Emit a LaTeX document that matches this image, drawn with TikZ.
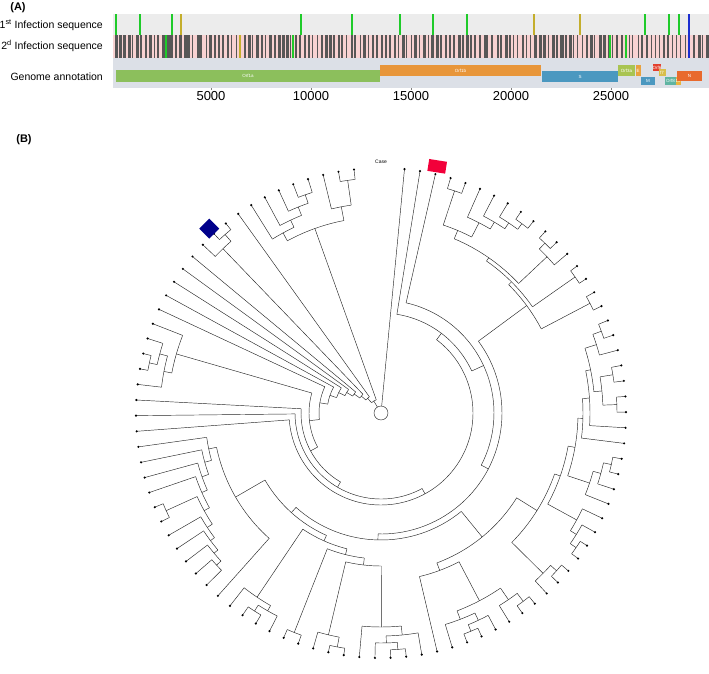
\documentclass[tikz,border=0pt]{standalone}
\usepackage{fontspec}
\setmainfont{Liberation Sans}
\usetikzlibrary{shapes.geometric}
\definecolor{RowGrey}{HTML}{ECECEC}
\definecolor{RowPink}{HTML}{F8D2D2}
\definecolor{RowBlue}{HTML}{DCE0E7}
\definecolor{BarDark}{HTML}{575757}
\definecolor{SnpGreen}{HTML}{1FCB2A}
\definecolor{SnpOlive}{HTML}{C4AE2C}
\definecolor{SnpBlue}{HTML}{1C2ED0}
\definecolor{GOrfA}{HTML}{8CBF5C}
\definecolor{GOrfB}{HTML}{E8963A}
\definecolor{GS}{HTML}{4B98C0}
\definecolor{GOrfC}{HTML}{A9C452}
\definecolor{GE}{HTML}{E9A23E}
\definecolor{GSix}{HTML}{E2402E}
\definecolor{GSeven}{HTML}{D9BE4C}
\definecolor{GEight}{HTML}{5FB4A2}
\definecolor{GTen}{HTML}{E9B43E}
\definecolor{GN}{HTML}{E86A2E}
\definecolor{MarkRed}{HTML}{F2003A}
\definecolor{MarkNavy}{HTML}{00008B}
% angle of leaf slot #1 on the circle
\newcommand\tang[1]{275.5+3.665*(#1)}

\begin{document}
\begin{tikzpicture}[x=1pt,y=-1pt,
    branch/.style={line width=0.45pt,draw=black!85},
    tipdot/.style={circle,fill=black,inner sep=0pt,minimum size=2.4pt},
    lab/.style={font=\fontsize{10.5}{12}\selectfont,anchor=east,inner sep=0pt},
    tick/.style={font=\fontsize{13}{15}\selectfont,inner sep=0pt},
    panel/.style={font=\bfseries\fontsize{11}{13}\selectfont,inner sep=0pt},
    gene/.style={inner sep=0pt,text=white,font=\fontsize{4.5}{5}\selectfont}]
  \useasboundingbox (0,0) rectangle (709,674);

  % (A) sequences and genome annotation
  \node[panel] (pA) at (18,8) {(A)};
  \fill[RowGrey] (113,14) rectangle (709,35);
  \fill[RowPink] (113,35) rectangle (709,58);
  \fill[RowBlue] (113,58) rectangle (709,88);
  \pgfmathsetseed{2023}
  \foreach \k in {0,...,138}{
    \pgfmathsetmacro\bx{114.5+4.28*\k+1.2*rnd}
    \pgfmathsetmacro\bw{0.9+2.3*rnd}
    \fill[BarDark] (\bx,35.5) rectangle (\bx+\bw,58);
  }
  \foreach \x/\c in {116/SnpGreen,140/SnpGreen,172/SnpGreen,181/SnpOlive,301/SnpGreen,
      352/SnpGreen,400/SnpGreen,433/SnpGreen,467/SnpGreen,534/SnpOlive,580/SnpOlive,
      645/SnpGreen,669/SnpGreen,679/SnpGreen,689/SnpBlue}
    \fill[\c] (\x-1,14) rectangle (\x+1,35);
  \foreach \x/\c in {166/SnpGreen,240/SnpOlive,293/SnpGreen,610/SnpGreen,626/SnpGreen,689/SnpBlue}
    \fill[\c] (\x-1,35.5) rectangle (\x+1,58);

  \node[lab] (seq1) at (103,25) {1\textsuperscript{st} Infection sequence};
  \node[lab] (seq2) at (103,46) {2\textsuperscript{d} Infection sequence};
  \node[lab] (annot) at (103,77) {Genome annotation};

  \node[gene,fill=GOrfA,minimum width=264pt,minimum height=12pt] (orf1a) at (248,76) {Orf1a};
  \node[gene,fill=GOrfB,minimum width=161pt,minimum height=11pt] (orf1b) at (460.5,70.5) {Orf1b};
  \node[gene,fill=GS,minimum width=76pt,minimum height=11pt] (sgene) at (580,76.5) {S};
  \node[gene,fill=GOrfC,minimum width=17pt,minimum height=11pt] (orf3a) at (626.5,70.5) {Orf3a};
  \node[gene,fill=GE,minimum width=5pt,minimum height=11pt] (egene) at (638,70.5) {E};
  \node[gene,fill=GS,minimum width=14pt,minimum height=8pt] (mgene) at (648,81) {M};
  \node[gene,fill=GSix,minimum width=4pt,minimum height=7pt] (orf6) at (657,67.5) {Orf6};
  \node[gene,fill=GSeven,minimum width=7pt,minimum height=7pt] (orf7) at (662,73) {f7};
  \node[gene,fill=GEight,minimum width=11pt,minimum height=8pt] (orf8) at (670.5,81) {Orf8};
  \node[gene,fill=GTen,minimum width=4pt,minimum height=8pt] (orf10) at (678,81) {10};
  \node[gene,fill=GN,minimum width=25pt,minimum height=10pt] (ngene) at (689.5,76) {N};

  \foreach \v/\x in {5000/211,10000/311,15000/411,20000/511,25000/611}{
    \draw[black!50] (\x,88) -- (\x,90.5);
    \node[tick] (tk\v) at (\x,96.5) {\v};
  }

  % (B) circular tree
  \node[panel] (pB) at (24,140) {(B)};
  \begin{scope}[shift={(381,413)}]
    \draw[branch] (0,0) circle[radius=7];
    % arcs: radius / first slot / last slot
    \foreach \r/\a/\b in {235/94/95,210/93/94.5,231/91/92,222/90/91.5,213/89/90.75,205/88/89.875,
        196/88.9375/93.75,237/85/86,228/84/85.5,237/75/76,229/75.5/77,221/74/76.25,213/75.125/78,
        224/60/61,218/60.5/62,213/61.25/63,208/62.125/64,236/65/66,202/63.0625/65.5,196/64.2813/67,
        190/65.6406/68,183/66.8203/69,176/67.9102/70,168/59/68.9551,235/56/57,228/55/56.5,222/55.75/58,
        236/53/54,238/50/51,228/50.5/52,237/46/47,230/46.5/48,223/45/47.25,214/46.125/49,
        153/47.5625/51.25,146/49.4063/53.5,140/51.4531/56.875,134/54.1641/63.9775,
        236/41/42,229/40/41.5,221/40.75/43,236/37/38,226/37.5/39,212/38.25/41.875,168/40.0625/44,
        236/34/35,228/34.5/36,237/32/33,230/31/32.5,223/30/31.75,236/26/27,228/26.5/28,220/27.25/29,
        235/17/18,226/17.5/19,235/20/21,236/22/23,222/20.5/22.5,214/18.25/21.5,209/19.875/24,
        202/21.9375/25,197/23.4688/28.125,190/25.7969/30.875,184/28.3359/35.25,160/31.793/42.0313,
        234/3/4,236/8/9,229/7/8.5,222/6/7.75,214/5/6.875,198/3.5/5.9375,236/10/11,228/10.5/12,
        237/13/14,236/15/16,189/4.7188/11.25,185/7.9844/13.5,181/10.7422/15.5,
        127/36.9121/59.0708,121/13.1211/47.9915,113/2/30.5563,100/1/16.2782,
        92/8.6391/71,86/39.8196/72,80/55.9098/73,72/64.4549/76.5625,62/70.5087/79,54/74.7544/80,
        47/77.3772/81,40/79.1886/82,33/80.5943/83,26/81.7972/84.75,20/83.2736/87,14/85.1368/91.3438}
      \draw[branch] ({\tang{\a}}:\r) arc[start angle={\tang{\a}},end angle={\tang{\b}},radius=\r];
    % stems of inner nodes: slot / inner radius / outer radius
    \foreach \x/\ra/\rb in {94.5/210/235,91.5/222/231,90.75/213/222,89.875/205/213,88.9375/196/205,
        93.75/196/210,91.3438/14/196,85.5/228/237,84.75/26/228,75.5/229/237,76.25/221/229,
        75.125/213/221,76.5625/72/213,60.5/218/224,61.25/213/218,62.125/208/213,63.0625/202/208,
        65.5/202/236,64.2813/196/202,65.6406/190/196,66.8203/183/190,67.9102/176/183,68.9551/168/176,
        63.9775/134/168,56.5/228/235,55.75/222/228,56.875/140/222,53.5/146/236,50.5/228/238,
        51.25/153/228,46.5/230/237,47.25/223/230,46.125/214/223,47.5625/153/214,49.4063/146/153,
        51.4531/140/146,54.1641/134/140,59.0708/127/134,41.5/229/236,40.75/221/229,41.875/212/221,
        37.5/226/236,38.25/212/226,40.0625/168/212,42.0313/160/168,34.5/228/236,35.25/184/228,
        32.5/230/237,31.75/223/230,30.875/190/223,26.5/228/236,27.25/220/228,28.125/197/220,
        17.5/226/235,18.25/214/226,20.5/222/235,22.5/222/236,21.5/214/222,19.875/209/214,
        21.9375/202/209,23.4688/197/202,25.7969/190/197,28.3359/184/190,31.793/160/184,
        36.9121/127/160,3.5/198/234,8.5/229/236,7.75/222/229,6.875/214/222,5.9375/198/214,
        4.7188/189/198,10.5/228/236,11.25/189/228,13.5/185/237,15.5/181/236,7.9844/185/189,
        10.7422/181/185,13.1211/121/181,47.9915/121/127,30.5563/113/121,16.2782/100/113,
        8.6391/92/100,39.8196/86/92,55.9098/80/86,64.4549/72/80,70.5087/62/72,74.7544/54/62,
        77.3772/47/54,79.1886/40/47,80.5943/33/40,81.7972/26/33,83.2736/20/26,85.1368/14/20,88.2403/7/14}
      \draw[branch] ({\tang{\x}}:\ra) -- ({\tang{\x}}:\rb);
    % leaves: slot / radius of the parent
    \foreach \x/\r in {94/235,95/235,93/210,91/231,92/231,90/222,89/213,88/205,85/237,86/237,84/228,
        75/237,76/237,77/229,74/221,78/213,60/224,61/224,62/218,63/213,64/208,65/236,66/236,67/196,
        68/190,69/183,70/176,59/168,56/235,57/235,55/228,58/222,53/236,54/236,50/238,51/238,52/228,
        46/237,47/237,48/230,45/223,49/214,41/236,42/236,40/229,43/221,37/236,38/236,39/226,44/168,
        34/236,35/236,36/228,32/237,33/237,31/230,30/223,26/236,27/236,28/228,29/220,17/235,18/235,
        19/226,20/235,21/235,22/236,23/236,24/209,25/202,3/234,4/234,8/236,9/236,7/229,6/222,5/214,
        10/236,11/236,12/228,13/237,14/237,15/236,16/236,2/113,1/100,0/7,71/92,72/86,73/80,79/62,
        80/54,81/47,82/40,83/33,87/20}
      \draw[branch] ({\tang{\x}}:\r) -- ({\tang{\x}}:245) node[tipdot] (tip\x) {};
    \node[font=\fontsize{5}{6}\selectfont] (case) at (270:251) {Case};
    \node[fill=MarkRed,minimum width=18pt,minimum height=12pt,inner sep=0pt,rotate=-9] (mkred) at ({\tang{2}}:253) {};
    \node[diamond,fill=MarkNavy,minimum width=20pt,minimum height=20pt,inner sep=0pt] (mkblue) at ({\tang{85}}:252) {};
  \end{scope}
\end{tikzpicture}
\end{document}
